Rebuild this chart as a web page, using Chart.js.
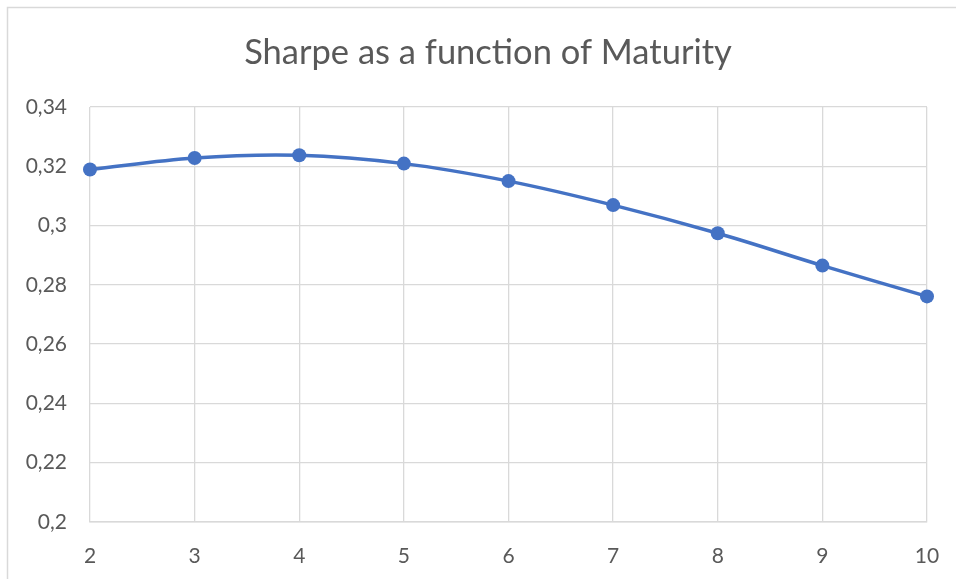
<!DOCTYPE html>
<html>
<head>
<meta charset="utf-8">
<title>Sharpe as a function of Maturity</title>
<script src="https://cdn.jsdelivr.net/npm/chart.js@4.4.1/dist/chart.umd.min.js"></script>
<style>
  html, body { margin: 0; padding: 0; background: #ffffff; }
  #wrap { position: relative; width: 956px; height: 579px; overflow: hidden; }
  canvas { display: block; }
</style>
</head>
<body>
<div id="wrap"><canvas id="chart" width="956" height="579"></canvas></div>
<script>
// Maturity (years) and the Sharpe ratio measured at each one
const maturities = [2, 3, 4, 5, 6, 7, 8, 9, 10];
const sharpeValues = [0.3189, 0.3228, 0.3237, 0.3209, 0.3150, 0.3069, 0.2974, 0.2865, 0.2761];

// Axis range and tick spacing
const xRange = [2, 10];
const yRange = [0.2, 0.34];
const yStep = 0.02;

const chartTitle = 'Sharpe as a function of Maturity';
const textColor = '#595959';
const gridColor = '#d9d9d9';
const lineColor = '#4472C4';
const fontFamily = 'Lato, "Open Sans", sans-serif';

// decimal comma, as in "0,34"
function commaDecimal(v) {
  return String(+v.toFixed(2)).replace('.', ',');
}

// light gray frame around the whole chart object
const framePlugin = {
  id: 'frame',
  beforeDraw(chart) {
    const ctx = chart.ctx;
    ctx.save();
    ctx.strokeStyle = gridColor;
    ctx.lineWidth = 1.5;
    ctx.strokeRect(7.5, 7.5, chart.width + 20, chart.height + 20);
    ctx.restore();
  }
};

// centre the title over the frame rather than over the padded box
const titleCentrePlugin = {
  id: 'titleCentre',
  afterLayout(chart) {
    const block = chart.titleBlock;
    if (block) {
      block.left = 20;
      block.right = chart.width;
    }
  }
};

new Chart(document.getElementById('chart'), {
  type: 'line',
  data: {
    datasets: [{
      label: 'Sharpe',
      data: maturities.map((m, i) => ({ x: m, y: sharpeValues[i] })),
      borderColor: lineColor,
      backgroundColor: lineColor,
      borderWidth: 3.5,
      pointRadius: 7,
      pointHoverRadius: 7,
      pointBorderWidth: 0,
      pointBackgroundColor: lineColor,
      tension: 0.35,
      fill: false,
      clip: false
    }]
  },
  options: {
    responsive: false,
    animation: false,
    events: [],
    layout: { padding: { left: 0, right: 29, top: 0, bottom: 0 } },
    plugins: {
      legend: { display: false },
      tooltip: { enabled: false },
      title: {
        display: true,
        text: chartTitle,
        color: textColor,
        font: { family: fontFamily, size: 34.5, weight: 'normal' },
        padding: { top: 32, bottom: 33.6 }
      }
    },
    scales: {
      x: {
        type: 'linear',
        min: xRange[0],
        max: xRange[1],
        afterFit(scale) {
          scale.height = 57;
          scale.paddingLeft = 0;
          scale.paddingRight = 0;
        },
        ticks: {
          stepSize: 1,
          color: textColor,
          font: { family: fontFamily, size: 21 },
          padding: 22,
          maxRotation: 0
        },
        grid: { color: gridColor, lineWidth: 1.3, drawTicks: false },
        border: { color: gridColor, width: 1.5 }
      },
      y: {
        min: yRange[0],
        max: yRange[1],
        afterFit(scale) {
          scale.width = 90;
          scale.paddingTop = 0;
          scale.paddingBottom = 0;
        },
        ticks: {
          stepSize: yStep,
          color: textColor,
          font: { family: fontFamily, size: 21 },
          padding: 23,
          callback: (v) => commaDecimal(v)
        },
        grid: { color: gridColor, lineWidth: 1.3, drawTicks: false },
        border: { display: false }
      }
    }
  },
  plugins: [framePlugin, titleCentrePlugin]
});
</script>
</body>
</html>
